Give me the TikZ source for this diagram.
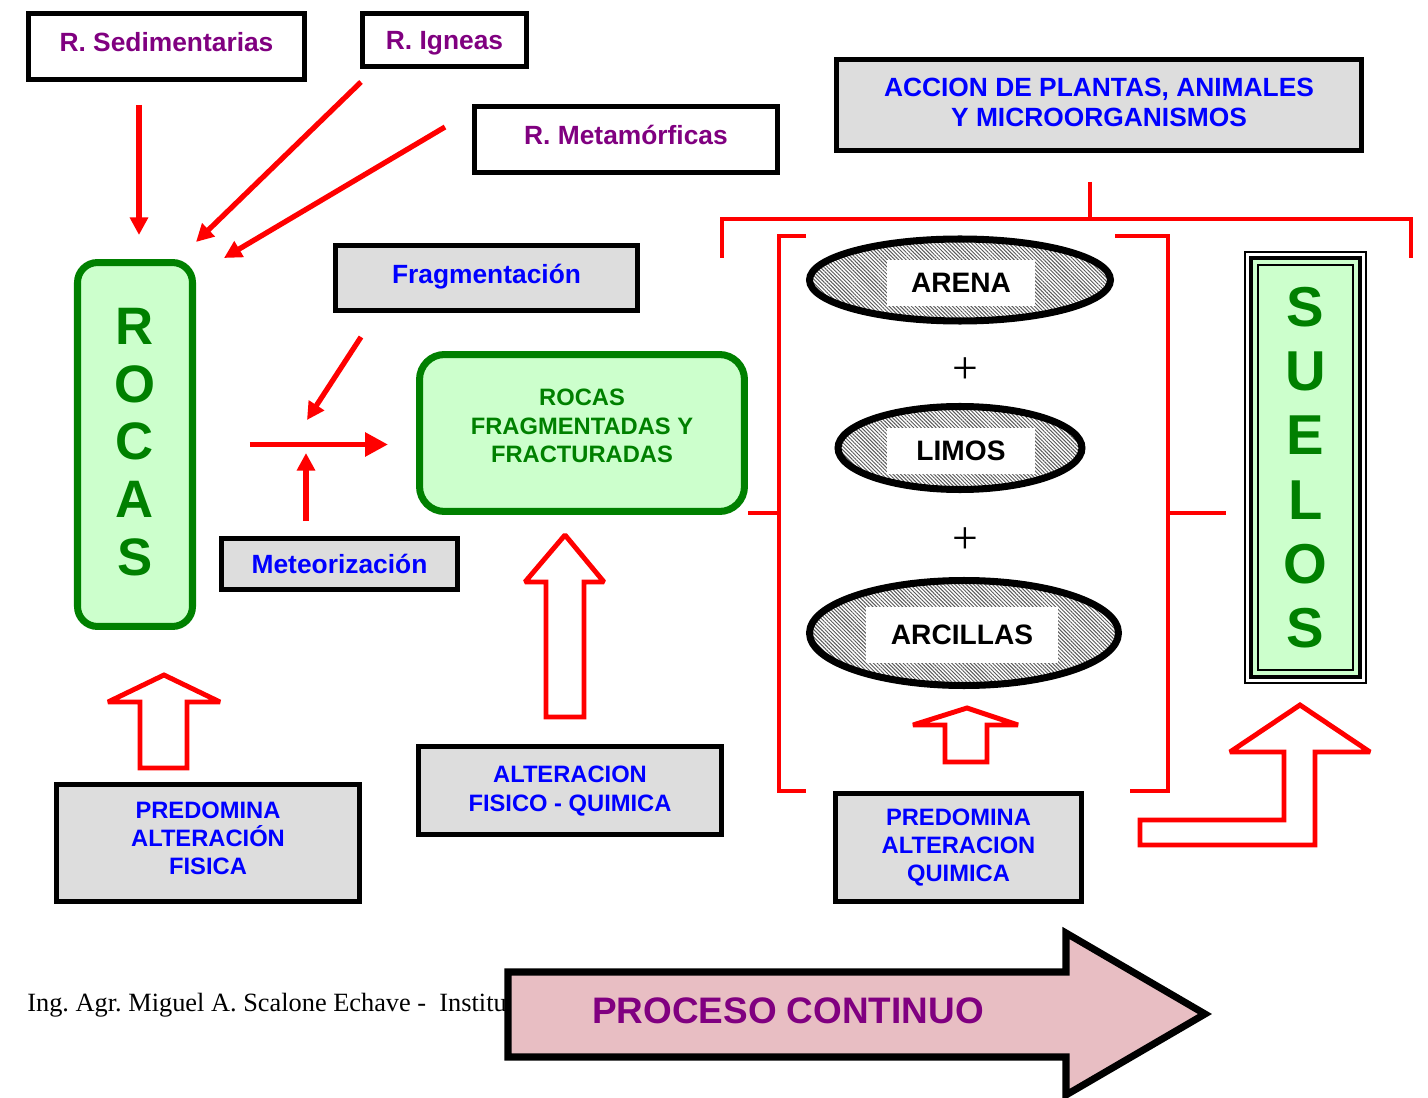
\documentclass[tikz,border=0pt]{standalone}
\usepackage{fontspec}
\setmainfont{Liberation Sans}
\newfontfamily\serifpie{Liberation Serif}
\usetikzlibrary{arrows.meta,shapes.geometric,patterns.meta}
\frenchspacing

\definecolor{morado}{HTML}{800080}
\definecolor{azul}{HTML}{0000FF}
\definecolor{verde}{HTML}{008000}
\definecolor{verdeclaro}{HTML}{CCFFCC}
\definecolor{gris}{HTML}{DDDDDD}
\definecolor{rosa}{HTML}{E8BEC3}

\tikzset{
  tipo/.style={draw, line width=2.8pt, fill=white, text=morado, font=\bfseries\fontsize{15}{18}\selectfont},
  caja/.style={draw, line width=2.8pt, fill=gris, text=azul, align=center, font=\bfseries\fontsize{13.5}{16}\selectfont},
  verdebox/.style={draw=verde, line width=4pt, fill=verdeclaro, text=verde, align=center},
  flecha/.style={red, line width=3pt, -{Triangle[length=10pt,width=10pt]}},
  corchete/.style={red, line width=2.8pt},
  hueca/.style={draw=red, line width=2.8pt, fill=white, line join=miter, miter limit=1.5},
  suelo/.style={ellipse, draw, line width=4pt, pattern={Lines[angle=-45,distance=1.5pt,line width=0.55pt]}, pattern color=black!65},
  rotulo/.style={fill=white, inner sep=0pt, font=\bfseries\fontsize{16}{18}\selectfont},
}

\begin{document}
\begin{tikzpicture}[x=0.02cm,y=-0.02cm]
\useasboundingbox (0,0) rectangle (1428,1098);

% tipos de roca
\node[tipo, minimum width=5.52cm, minimum height=1.32cm, text depth=5.5pt] (sedim) at (166.5,46.5) {R. Sedimentarias};
\node[tipo, minimum width=3.28cm, minimum height=1.06cm, text depth=0pt] (ignea) at (444.5,40) {R. Igneas};
\node[tipo, minimum width=6.06cm, minimum height=1.32cm, text depth=5.5pt] (metam) at (626,139.5) {R. Metamórficas};

\node[verdebox, rounded corners=0.4cm, minimum width=2.3cm, minimum height=7.28cm, text depth=3pt,
  font=\bfseries\fontsize{30}{32.8}\selectfont] (rocas) at (135,444.5) {R\\O\\C\\A\\S};

\coordinate (s1) at (139,105);  \coordinate (s2) at (139,235);
\coordinate (i1) at (361,82);   \coordinate (i2) at (196,242);
\coordinate (m1) at (445,127);  \coordinate (m2) at (224,258);
\draw[flecha] (s1)--(s2);
\draw[flecha] (i1)--(i2);
\draw[flecha] (m1)--(m2);

% fragmentacion y meteorizacion
\node[caja, minimum width=6.04cm, minimum height=1.3cm, text depth=5pt, font=\bfseries\fontsize{15}{18}\selectfont] (fragm) at (486.5,278) {Fragmentación};
\node[caja, minimum width=4.72cm, minimum height=1.02cm, font=\bfseries\fontsize{15}{18}\selectfont] (meteo) at (339.5,564) {Meteorización};
\node[verdebox, rounded corners=0.5cm, minimum width=6.5cm, minimum height=3.14cm, text depth=8pt,
  font=\bfseries\fontsize{13.5}{16.2}\selectfont] (rocfrag) at (582,433) {ROCAS\\FRAGMENTADAS Y\\FRACTURADAS};

\coordinate (f1) at (361,337);  \coordinate (f2) at (307,420);
\coordinate (w1) at (306,521);  \coordinate (w2) at (306,453);
\draw[flecha] (f1)--(f2);
\draw[flecha] (w1)--(w2);
\draw[red, line width=3.4pt, -{Triangle[length=13pt,width=13pt]}, shorten <=1.08cm, shorten >=0.56cm]
  (rocas.east)--(rocas.east -| rocfrag.west);

% alteraciones
\node[caja, minimum width=6.06cm, minimum height=2.34cm, text depth=5.5pt] (predfis) at (208,843) {PREDOMINA\\ALTERACIÓN\\FISICA};
\node[caja, minimum width=6.06cm, minimum height=1.76cm, text depth=2pt] (altfq) at (570,790.5) {ALTERACION\\FISICO - QUIMICA};
\node[caja, minimum width=4.92cm, minimum height=2.16cm] (predquim) at (958.5,847.5) {PREDOMINA\\ALTERACION\\QUIMICA};
\node[caja, minimum width=10.5cm, minimum height=1.82cm, text depth=3.5pt, font=\bfseries\fontsize{15}{17}\selectfont] (accion) at (1099,105) {ACCION DE PLANTAS, ANIMALES\\Y MICROORGANISMOS};

\draw[hueca] (140,768)--(140,702)--(108,702)--(164,675)--(220,702)--(187,702)--(187,768)--cycle;
\draw[hueca] (546,717)--(546,582)--(525,582)--(565,535)--(604,582)--(584,582)--(584,717)--cycle;
\draw[hueca] (945,762)--(945,725)--(913,725)--(967,708)--(1018,725)--(987,725)--(987,762)--cycle;

% arena, limo, arcilla
\node[suelo, minimum width=6.02cm, minimum height=1.64cm] (arena) at (960,280) {};
\node[suelo, minimum width=4.88cm, minimum height=1.66cm] (limos) at (960,448) {};
\node[suelo, minimum width=6.18cm, minimum height=2.1cm] (arcilla) at (964,633) {};
\node[rotulo, minimum width=2.96cm, minimum height=0.94cm] (arenat) at (961,283) {ARENA};
\node[rotulo, minimum width=2.96cm, minimum height=0.92cm] (limost) at (961,451) {LIMOS};
\node[rotulo, minimum width=3.84cm, minimum height=1.14cm] (arcillat) at (962,635) {ARCILLAS};
\node[font=\serifpie\fontsize{26}{26}\selectfont] (mas1) at (965,371) {+};
\node[font=\serifpie\fontsize{26}{26}\selectfont] (mas2) at (965,541) {+};

% corchetes
\coordinate (ac) at (1090,182);
\draw[corchete] (722,258)--(722,219)--(1411,219)--(1411,258);
\draw[corchete] (ac)--(1090,219);
\draw[corchete] (806,236)--(779,236)--(779,791)--(806,791);
\draw[corchete] (1115,236)--(1168,236)--(1168,791)--(1130,791);
\draw[corchete] (748,513)--(779,513);
\draw[corchete] (1168,513)--(1226,513);

% suelos
\draw[line width=0.8pt] (1245,252) rectangle (1366,683);
\draw[line width=2.6pt, fill=verdeclaro] (1251,258) rectangle (1360,677);
\node[draw, line width=1pt, fill=verdeclaro, text=verde, align=center, minimum width=1.9cm, minimum height=8.1cm,
  font=\bfseries\fontsize{32}{36.6}\selectfont] (suelos) at (1305.5,467.5) {S\\U\\E\\L\\O\\S};
\draw[hueca] (1140,820)--(1284,820)--(1284,752)--(1230,752)--(1300,705)--(1370,752)--(1315,752)--(1315,845)--(1140,845)--cycle;

% pie y proceso
\node[anchor=base west, inner sep=0pt, font=\serifpie\fontsize{15}{18}\selectfont] (pie) at (27,1011) {Ing. Agr. Miguel A. Scalone Echave - \ Institu};
\draw[line width=4pt, fill=rosa, line join=miter] (508,972)--(1066,972)--(1066,933)--(1205,1014)--(1066,1095)--(1066,1057)--(508,1057)--cycle;
\node[text=morado, font=\bfseries\fontsize{21}{24}\selectfont] (proceso) at (788,1011) {PROCESO CONTINUO};
\end{tikzpicture}
\end{document}
